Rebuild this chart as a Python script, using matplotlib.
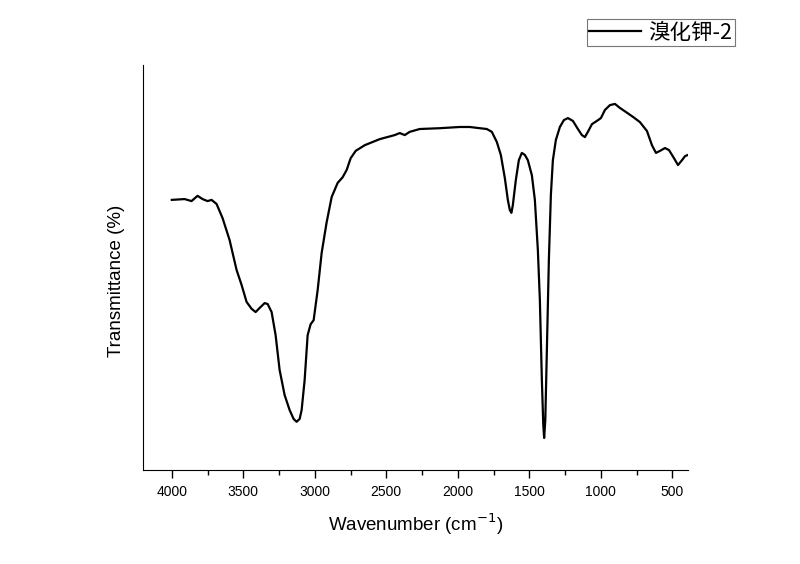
import numpy as np
import matplotlib.pyplot as plt
from matplotlib.ticker import MultipleLocator, NullLocator

plt.rcParams['font.family'] = ['Liberation Sans', 'Noto Sans CJK SC', 'DejaVu Sans']

# FTIR spectrum (wavenumber in cm-1, transmittance in arbitrary units)
wavenumber = [4000, 3910, 3862, 3820, 3785, 3750, 3722, 3687, 3645, 3596,
              3547, 3512, 3477, 3442, 3414, 3386, 3351, 3330, 3302, 3274,
              3246, 3211, 3176, 3148, 3127, 3106, 3092, 3071, 3050, 3029,
              3008, 2980, 2952, 2917, 2882, 2840, 2805, 2777, 2749, 2714,
              2651, 2546, 2441, 2406, 2371, 2336, 2266, 2126, 1986, 1916,
              1846, 1797, 1762, 1727, 1699, 1671, 1650, 1636, 1625, 1615,
              1594, 1573, 1552, 1531, 1510, 1482, 1461, 1440, 1426, 1412,
              1402, 1396, 1388, 1377, 1363, 1349, 1335, 1314, 1286, 1258,
              1230, 1195, 1160, 1132, 1111, 1090, 1062, 1027, 999, 971,
              936, 901, 866, 824, 775, 726, 677, 642, 614, 586,
              551, 523, 488, 460, 432, 411, 390]
transmittance = [66.7, 66.9, 66.4, 67.7, 66.9, 66.4, 66.7, 65.7, 62.2, 56.8,
                 49.4, 45.7, 41.5, 39.8, 39.0, 40.0, 41.2, 41.0, 39.0, 33.3,
                 24.7, 18.5, 14.8, 12.6, 11.9, 12.6, 14.8, 22.2, 33.3, 36.0,
                 37.0, 44.4, 53.6, 61.2, 67.4, 70.9, 72.3, 74.1, 77.0, 78.8,
                 80.2, 81.7, 82.7, 83.2, 82.7, 83.5, 84.2, 84.4, 84.7, 84.7,
                 84.4, 84.2, 83.5, 81.0, 77.8, 72.1, 66.7, 64.2, 63.5, 65.4,
                 71.6, 76.5, 78.3, 77.8, 76.5, 72.8, 66.7, 54.3, 42.0, 22.2,
                 11.1, 7.9, 12.3, 29.6, 51.9, 67.9, 76.5, 81.5, 84.7, 86.4,
                 86.9, 86.2, 84.2, 82.7, 82.2, 83.5, 85.4, 86.2, 86.9, 88.9,
                 90.1, 90.4, 89.4, 88.4, 87.2, 85.9, 83.7, 80.2, 78.3, 78.8,
                 79.5, 79.0, 77.0, 75.3, 76.5, 77.5, 77.8]

fig = plt.figure(figsize=(8, 5.64), dpi=100)
ax = fig.add_axes([0.179, 0.1667, 0.681, 0.718])

ax.plot(wavenumber, transmittance, color='black', lw=1.6, label='溴化钾-2')

ax.set_xlim(4200, 390)
ax.set_ylim(0, 100)
ax.xaxis.set_major_locator(MultipleLocator(500))
ax.xaxis.set_minor_locator(MultipleLocator(250))
ax.yaxis.set_major_locator(NullLocator())
ax.tick_params(axis='x', which='major', length=6, width=1, labelsize=10, pad=5)
ax.tick_params(axis='x', which='minor', length=3.5, width=1)
for s in ['top', 'right']:
    ax.spines[s].set_visible(False)

ax.set_xlabel('Wavenumber (cm$^{-1}$)', fontsize=13.5, labelpad=9)
ax.set_ylabel('Transmittance (%)', fontsize=13.5)
ax.yaxis.set_label_coords(-0.034, 0.467)

leg = fig.legend(loc='upper right', bbox_to_anchor=(0.919, 0.966),
                 borderaxespad=0, frameon=True, fancybox=False, edgecolor='#555555',
                 handlelength=2.4, borderpad=0.12, handletextpad=0.35,
                 prop={'family': ['Noto Sans CJK SC', 'DejaVu Sans'], 'size': 15.5})
leg.get_frame().set_linewidth(0.8)

fig.savefig('out.png', dpi=100)
